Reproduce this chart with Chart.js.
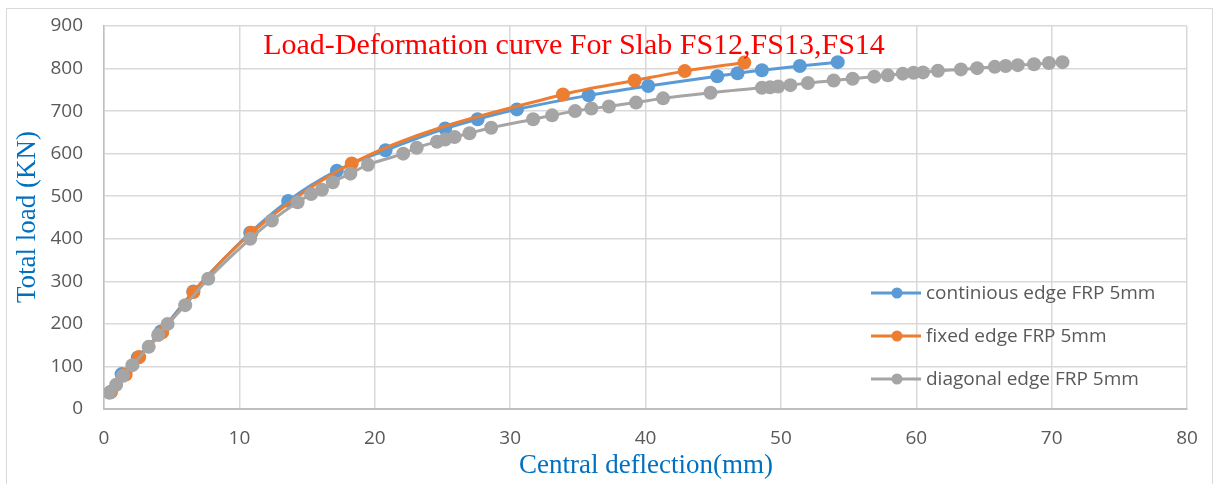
<!DOCTYPE html>
<html>
<head>
<meta charset="utf-8">
<script src="https://cdn.jsdelivr.net/npm/chart.js@4.4.1/dist/chart.umd.min.js"></script>
<style>
  html, body { margin: 0; padding: 0; background: #fff; }
  #wrap { width: 1214px; height: 484px; position: relative; }
</style>
</head>
<body>
<div id="wrap"><canvas id="c"></canvas></div>
<script>
// Slab test results: central deflection (mm) vs total load (KN)
const seriesLabels = ['continious edge FRP 5mm', 'fixed edge FRP 5mm', 'diagonal edge FRP 5mm'];

const contDefl = [0.5, 1.3, 2.5, 4.2, 6.6, 10.8, 13.6, 17.2, 20.8, 25.2, 27.6, 30.5, 35.8, 40.2, 45.3, 46.8, 48.6, 51.4, 54.2];
const contLoad = [40, 82, 121, 182, 276, 414, 489, 560, 608, 659, 681, 704, 737, 759, 782, 789, 796, 806, 815];

const fixedDefl = [0.5, 1.6, 2.6, 4.3, 6.6, 10.9, 18.3, 33.9, 39.2, 42.9, 47.3];
const fixedLoad = [40, 81, 122, 180, 275, 414, 577, 739, 772, 794, 814];

const diagDefl = [0.4, 0.9, 1.4, 2.1, 3.3, 4.0, 4.7, 6.0, 7.7, 10.8, 12.4, 14.3, 15.3, 16.1, 16.9, 18.2, 19.5,
  22.1, 23.1, 24.6, 25.2, 25.9, 27.0, 28.6, 31.7, 33.1, 34.8, 36.0, 37.3, 39.3, 41.3, 44.8, 48.6, 49.2, 49.8,
  50.7, 52.0, 53.9, 55.3, 56.9, 57.9, 59.0, 59.8, 60.5, 61.6, 63.3, 64.5, 65.8, 66.6, 67.5, 68.7, 69.8, 70.8];
const diagLoad = [38, 57, 78, 103, 146, 174, 200, 244, 306, 400, 443, 486, 505, 515, 533, 553, 574,
  600, 614, 628, 633, 639, 648, 661, 681, 690, 700, 706, 711, 720, 730, 743, 755, 756, 758,
  761, 766, 772, 776, 781, 784, 788, 790, 791, 795, 798, 801, 804, 806, 808, 810, 813, 815];

const xTicksMax = 80, xStep = 10;
const yTicksMax = 900, yStep = 100;

const chartTitle = 'Load-Deformation curve For Slab FS12,FS13,FS14';
const xTitle = 'Central deflection(mm)';
const yTitle = 'Total load (KN)';

const colors = ['#5B9BD5', '#ED7D31', '#A5A5A5'];

function pts(xs, ys) { return xs.map((x, i) => ({ x: x, y: ys[i] })); }

function makeSet(i, xs, ys, order) {
  return {
    label: seriesLabels[i],
    data: pts(xs, ys),
    borderColor: colors[i],
    backgroundColor: colors[i],
    borderWidth: 3,
    pointRadius: 7,
    pointHoverRadius: 7,
    pointBorderWidth: 0,
    cubicInterpolationMode: 'monotone',
    order: order
  };
}

// frame, titles and in-plot legend
const decorations = {
  id: 'decorations',
  beforeDraw(chart) {
    const ctx = chart.ctx;
    ctx.save();
    ctx.strokeStyle = '#D9D9D9';
    ctx.lineWidth = 1;
    ctx.strokeRect(6.5, 8.5, 1206, 500);
    ctx.restore();
  },
  afterDraw(chart) {
    const ctx = chart.ctx;
    ctx.save();
    // chart title
    ctx.fillStyle = '#FF0000';
    ctx.font = '30px "Liberation Serif", "Times New Roman", serif';
    ctx.textAlign = 'center';
    ctx.textBaseline = 'middle';
    ctx.fillText(chartTitle, 574, 46);
    // axis titles
    ctx.fillStyle = '#0070C0';
    ctx.font = '27px "Liberation Serif", "Times New Roman", serif';
    ctx.fillText(xTitle, 646, 466);
    ctx.save();
    ctx.translate(28, 217);
    ctx.rotate(-Math.PI / 2);
    ctx.fillText(yTitle, 0, 0);
    ctx.restore();
    // legend
    ctx.font = '19px "Open Sans", sans-serif';
    ctx.textAlign = 'left';
    const rows = [293, 336, 379];
    chart.data.datasets.forEach((ds, i) => {
      const y = rows[i];
      ctx.strokeStyle = ds.borderColor;
      ctx.lineWidth = 3;
      ctx.beginPath();
      ctx.moveTo(871, y);
      ctx.lineTo(921, y);
      ctx.stroke();
      ctx.fillStyle = ds.borderColor;
      ctx.beginPath();
      ctx.arc(897, y, 5.5, 0, Math.PI * 2);
      ctx.fill();
      ctx.fillStyle = '#595959';
      ctx.fillText(ds.label, 926, y + 1);
    });
    ctx.restore();
  }
};

new Chart(document.getElementById('c'), {
  type: 'line',
  data: {
    datasets: [
      makeSet(0, contDefl, contLoad, 3),
      makeSet(1, fixedDefl, fixedLoad, 2),
      makeSet(2, diagDefl, diagLoad, 1)
    ]
  },
  options: {
    responsive: true,
    maintainAspectRatio: false,
    animation: false,
    devicePixelRatio: 1,
    layout: { padding: { top: 26, right: 27, left: 0, bottom: 0 } },
    plugins: { legend: { display: false }, title: { display: false }, tooltip: { enabled: false } },
    scales: {
      x: {
        type: 'linear',
        min: 0, max: xTicksMax,
        ticks: { stepSize: xStep, color: '#595959', font: { family: 'Open Sans', size: 19 }, padding: 18, maxRotation: 0 },
        grid: { color: '#D9D9D9', lineWidth: 1.5, drawTicks: false },
        border: { color: '#BFBFBF', width: 2 },
        afterFit(s) { s.height = 75; s.paddingLeft = 0; s.paddingRight = 0; }
      },
      y: {
        type: 'linear',
        min: 0, max: yTicksMax,
        ticks: { stepSize: yStep, color: '#595959', font: { family: 'Open Sans', size: 19 }, padding: 21 },
        grid: { color: '#D9D9D9', lineWidth: 1.5, drawTicks: false },
        border: { color: '#BFBFBF', width: 1.5 },
        afterFit(s) { s.width = 104; s.paddingTop = 0; s.paddingBottom = 0; }
      }
    }
  },
  plugins: [decorations]
});
</script>
</body>
</html>
